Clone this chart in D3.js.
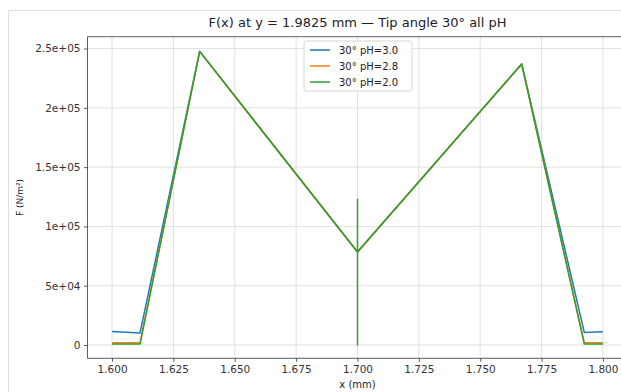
<!DOCTYPE html>
<html>
<head>
<meta charset="utf-8">
<script src="https://cdn.jsdelivr.net/npm/d3@7/dist/d3.min.js"></script>
<style>
  html, body { margin: 0; padding: 0; background: #ffffff; }
  svg { display: block; font-family: "DejaVu Sans", sans-serif; }
</style>
</head>
<body>
<svg id="chart" width="621" height="392"></svg>
<script>
// Sampled positions (mm) and force density (N/m²) for each pH case
const xPH30 = [1.600, 1.6114, 1.6357, 1.700, 1.7669, 1.7924, 1.800];
const yPH30 = [11500, 10200, 247600, 78500, 237000, 10600, 11200];

const xPH28 = [1.600, 1.6114, 1.6357, 1.700, 1.7669, 1.7924, 1.800];
const yPH28 = [2000, 2000, 247600, 78500, 237000, 2000, 2000];

const xPH20 = [1.600, 1.6114, 1.6357, 1.700, 1.700, 1.700, 1.700, 1.7669, 1.7924, 1.800];
const yPH20 = [800, 800, 247600, 78500, 123000, 0, 78500, 237000, 800, 800];

const seriesNames = ["30° pH=3.0", "30° pH=2.8", "30° pH=2.0"];
const seriesColors = ["#1f77b4", "#ff7f0e", "#2ca02c"];

const xTicks = [1.600, 1.625, 1.650, 1.675, 1.700, 1.725, 1.750, 1.775, 1.800];
const yTicks = [0, 50000, 100000, 150000, 200000, 250000];
const yTickLabels = ["0", "5e+04", "1e+05", "1.5e+05", "2e+05", "2.5e+05"];

const series = [
  { name: seriesNames[0], color: seriesColors[0], pts: xPH30.map((v, i) => [v, yPH30[i]]) },
  { name: seriesNames[1], color: seriesColors[1], pts: xPH28.map((v, i) => [v, yPH28[i]]) },
  { name: seriesNames[2], color: seriesColors[2], pts: xPH20.map((v, i) => [v, yPH20[i]]) }
];

const svg = d3.select("#chart");

// outer frame of the figure cell
svg.append("rect")
  .attr("x", 8.5).attr("y", 10.5)
  .attr("width", 640).attr("height", 400)
  .attr("fill", "none").attr("stroke", "#dddddd").attr("stroke-width", 1);

const plotL = 87.5, plotT = 36.7, plotB = 358.3, plotR = 627.5;

const x = d3.scaleLinear().domain([1.59, 1.81]).range([plotL, plotR]);
const y = d3.scaleLinear().domain([-11200, 260000]).range([plotB, plotT]);

const plot = svg.append("g");

// grid
plot.append("g").selectAll("line").data(xTicks).join("line")
  .attr("x1", d => x(d)).attr("x2", d => x(d))
  .attr("y1", plotT).attr("y2", plotB)
  .attr("stroke", "#d9d9d9").attr("stroke-width", 0.8);
plot.append("g").selectAll("line").data(yTicks).join("line")
  .attr("x1", plotL).attr("x2", plotR)
  .attr("y1", d => y(d)).attr("y2", d => y(d))
  .attr("stroke", "#d9d9d9").attr("stroke-width", 0.8);

// data lines
const line = d3.line().x(d => x(d[0])).y(d => y(d[1]));
plot.append("g").selectAll("path").data(series).join("path")
  .attr("d", d => line(d.pts))
  .attr("fill", "none")
  .attr("stroke", d => d.color)
  .attr("stroke-width", 1.5)
  .attr("stroke-linejoin", "round");

// axes
const xAxis = d3.axisBottom(x).tickValues(xTicks).tickFormat(d3.format(".3f")).tickSizeOuter(0).tickSize(3.5).tickPadding(3.5);
const yAxis = d3.axisLeft(y).tickValues(yTicks).tickFormat((d, i) => yTickLabels[i]).tickSizeOuter(0).tickSize(3.5).tickPadding(3.5);

const gx = svg.append("g").attr("transform", `translate(0,${plotB})`).call(xAxis);
const gy = svg.append("g").attr("transform", `translate(${plotL},0)`).call(yAxis);
[gx, gy].forEach(g => {
  g.select(".domain").remove();
  g.selectAll(".tick line").attr("stroke", "#333").attr("stroke-width", 0.8);
  g.selectAll(".tick text").attr("fill", "#333").style("font-size", "10.5px").style("font-family", "DejaVu Sans, sans-serif");
});

// spines
svg.append("line").attr("x1", plotL).attr("x2", plotL).attr("y1", plotT).attr("y2", plotB).attr("stroke", "#333").attr("stroke-width", 0.8);
svg.append("line").attr("x1", plotL).attr("x2", plotR).attr("y1", plotB).attr("y2", plotB).attr("stroke", "#333").attr("stroke-width", 0.8);
svg.append("line").attr("x1", plotL).attr("x2", plotR).attr("y1", plotT).attr("y2", plotT).attr("stroke", "#333").attr("stroke-width", 0.8);

// title and axis labels
const cx = (plotL + plotR) / 2;
svg.append("text").attr("x", cx).attr("y", 27).attr("text-anchor", "middle")
  .style("font-size", "13px").attr("fill", "#222")
  .text("F(x) at y = 1.9825 mm — Tip angle 30° all pH");
svg.append("text").attr("x", cx).attr("y", 388).attr("text-anchor", "middle")
  .style("font-size", "10px").attr("fill", "#222").text("x (mm)");
svg.append("text").attr("transform", `translate(23,${(plotT + plotB) / 2}) rotate(-90)`)
  .attr("text-anchor", "middle").style("font-size", "9px").attr("fill", "#222").text("F (N/m²)");

// legend
const lg = svg.append("g").attr("transform", "translate(304,41)");
lg.append("rect").attr("x", 0).attr("y", 0).attr("width", 108).attr("height", 50).attr("rx", 2)
  .attr("fill", "#ffffff").attr("fill-opacity", 0.85).attr("stroke", "#cccccc").attr("stroke-width", 0.8);
series.forEach((s, i) => {
  const yy = 9 + i * 16;
  lg.append("line").attr("x1", 6).attr("x2", 26).attr("y1", yy).attr("y2", yy)
    .attr("stroke", s.color).attr("stroke-width", 1.5);
  lg.append("text").attr("x", 35).attr("y", yy + 3.5).style("font-size", "10px").attr("fill", "#222").text(s.name);
});
</script>
</body>
</html>
